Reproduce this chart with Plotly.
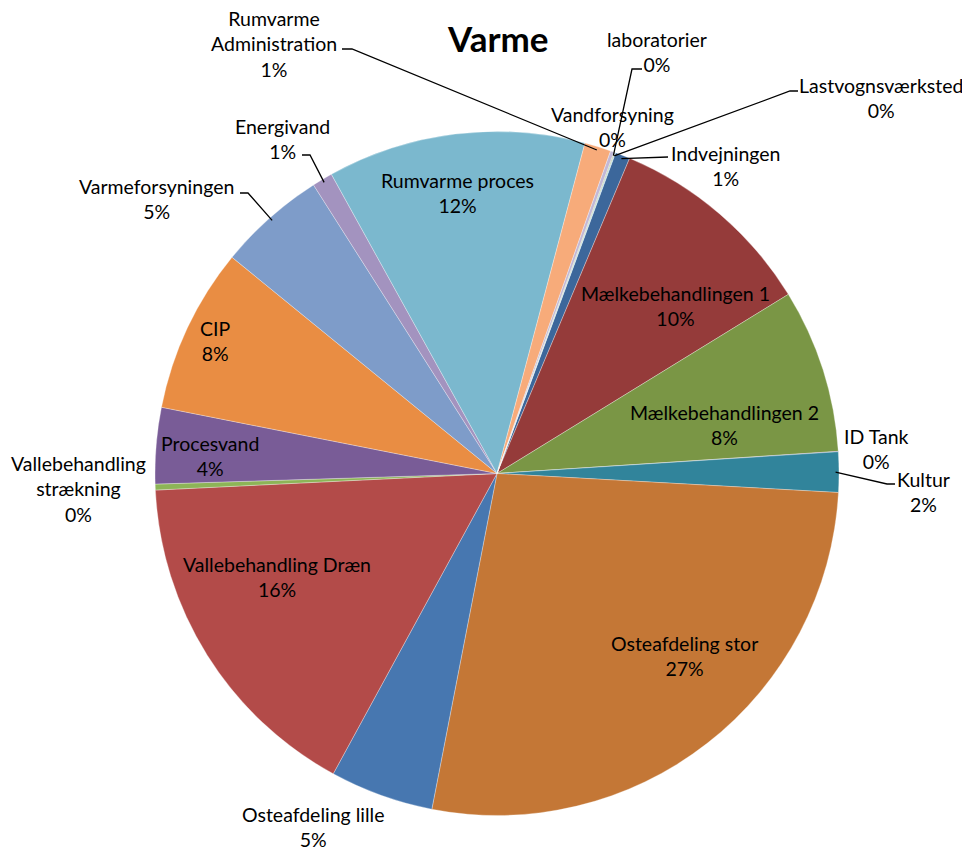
import math
import plotly.graph_objects as go

# ---------------- data ----------------
CATEGORIES = [
    "Indvejningen", "Mælkebehandlingen 1", "Mælkebehandlingen 2", "ID Tank", "Kultur",
    "Osteafdeling stor", "Osteafdeling lille", "Vallebehandling Dræn",
    "Vallebehandling strækning", "Procesvand", "CIP", "Varmeforsyningen", "Energivand",
    "Rumvarme proces", "Rumvarme Administration", "Vandforsyning", "laboratorier",
    "Lastvognsværksted",
]
VALUES = [0.7, 9.9, 7.75, 0.02, 1.9, 27.2, 4.9, 16.3, 0.28, 3.6, 7.8, 5.1, 0.97,
          12.2, 1.25, 0.17, 0.05, 0.03]
COLORS = ["#3C679B", "#953B3A", "#7A9645", "#5F4A7B", "#31849B", "#C47736", "#4777B0",
          "#B34B49", "#8DB457", "#795C97", "#E98D43", "#7E9CC9", "#A393BF", "#7BB8CE",
          "#F7AB7A", "#C2B8D6", "#B9CD96", "#8FC1DD"]
TITLE = "Varme"

# ---------------- layout ----------------
W, H = 962, 850
CX, CY, R = 497, 473.5, 342
ROTATION = 20.3
FONT = "Lato"

LABEL_TEXT = {
    "Rumvarme Administration": "Rumvarme<br>Administration",
    "Vallebehandling strækning": "Vallebehandling<br>strækning",
}
LABEL_POS = {  # label block centres, pixels
    "Indvejningen": (725, 166), "Mælkebehandlingen 1": (675, 306),
    "Mælkebehandlingen 2": (724, 425), "ID Tank": (876, 449), "Kultur": (923, 492),
    "Osteafdeling stor": (684, 656), "Osteafdeling lille": (313, 827),
    "Vallebehandling Dræn": (277, 577), "Vallebehandling strækning": (78, 489),
    "Procesvand": (210, 456), "CIP": (215, 341), "Varmeforsyningen": (156, 199),
    "Energivand": (282, 139), "Rumvarme proces": (457, 193),
    "Rumvarme Administration": (274, 44), "Vandforsyning": (612, 127),
    "laboratorier": (657, 52), "Lastvognsværksted": (881, 98),
}
LEADERS = {  # label-side points of leader lines, pixels
    "Rumvarme Administration": [(342, 49), (352, 49)],
    "laboratorier": [(642, 69), (632, 69)],
    "Lastvognsværksted": [(798, 91), (790, 91)],
    "Indvejningen": [(668, 157)],
    "Energivand": [(302, 155), (310, 155)],
    "Varmeforsyningen": [(240, 193), (248, 193)],
    "Kultur": [(895, 484), (887, 484)],
}


def px(x, y):
    return x / W, 1 - y / H


total = sum(VALUES)
mid_angle = {}
acc = ROTATION
for c, v in zip(CATEGORIES, VALUES):
    span = v / total * 360
    mid_angle[c] = acc + span / 2
    acc += span

fig = go.Figure(go.Pie(
    labels=CATEGORIES, values=VALUES, sort=False, direction="clockwise",
    rotation=ROTATION, textinfo="none", hoverinfo="label+percent",
    marker=dict(colors=COLORS, line=dict(color="rgba(255,255,255,0.5)", width=0.6)),
    domain=dict(x=[(CX - R) / W, (CX + R) / W], y=[1 - (CY + R) / H, 1 - (CY - R) / H]),
    showlegend=False,
))

annotations = []
for c, v in zip(CATEGORIES, VALUES):
    x, y = px(*LABEL_POS[c])
    txt = LABEL_TEXT.get(c, c) + "<br>" + f"{round(v / total * 100)}%"
    annotations.append(dict(x=x, y=y, xref="paper", yref="paper", text=txt,
                            showarrow=False, xanchor="center", yanchor="middle",
                            font=dict(family=FONT, size=19.5, color="#000000")))

annotations.append(dict(x=CX / W, y=1 - 38 / H, xref="paper", yref="paper",
                        text="<b>" + TITLE + "</b>", showarrow=False,
                        xanchor="center", yanchor="middle",
                        font=dict(family=FONT, size=35, color="#000000")))

shapes = []
for c, pts in LEADERS.items():
    a = math.radians(mid_angle[c])
    tx, ty = CX + 0.99 * R * math.sin(a), CY - 0.99 * R * math.cos(a)
    allpts = pts + [(tx, ty)]
    path = ""
    for i, (x, y) in enumerate(allpts):
        X, Y = px(x, y)
        path += ("M" if i == 0 else " L") + f" {X:.5f} {Y:.5f}"
    shapes.append(dict(type="path", path=path, xref="paper", yref="paper",
                       line=dict(color="#000000", width=1.3)))

fig.update_layout(width=W, height=H, autosize=False,
                  margin=dict(l=0, r=0, t=0, b=0),
                  paper_bgcolor="white", plot_bgcolor="white",
                  annotations=annotations, shapes=shapes)

fig.write_html("out.html")
